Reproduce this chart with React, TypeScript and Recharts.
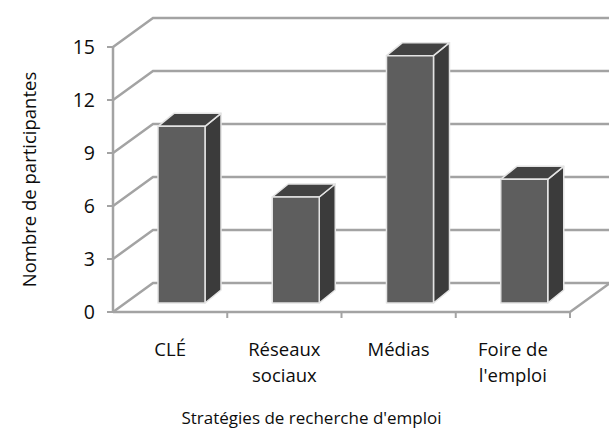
import { Bar, BarChart, CartesianGrid, Label, XAxis, YAxis } from 'recharts'

const CATEGORIES = ['CLÉ', 'Réseaux\nsociaux', 'Médias', "Foire de\nl'emploi"]
const PARTICIPANTS = [10, 6, 14, 7]
const Y_TICKS = [0, 3, 6, 9, 12, 15]
const X_TITLE = "Stratégies de recherche d'emploi"
const Y_TITLE = 'Nombre de participantes'

const rows = CATEGORIES.map((name, i) => ({ name, value: PARTICIPANTS[i] }))

const FONT = '"Open Sans", "DejaVu Sans", sans-serif'
const GRID = '#a3a3a3'
const TEXT = '#0d0d0d'
// oblique depth of the back wall, and where the bars sit inside that depth
const DEPTH_X = 40
const DEPTH_Y = -29
const BAR_SHIFT_X = 11
const BAR_SHIFT_Y = -9
const BAR_DEPTH_X = 16
const BAR_DEPTH_Y = -13

function WallLine(props: any) {
  const { x1, x2, y1, y, height } = props
  const by = y1 + DEPTH_Y
  const isFloor = Math.abs(y1 - (y + height)) < 1
  const step = (x2 - x1) / CATEGORIES.length
  return (
    <g key={props.key}>
      <polyline
        points={`${x1},${y1} ${x1 + DEPTH_X},${by} ${x2 + DEPTH_X},${by}`}
        fill="none"
        stroke={GRID}
        strokeWidth={2.5}
      />
      {isFloor && (
        <>
          <polyline
            points={`${x1},${y1} ${x2},${y1} ${x2 + DEPTH_X},${by}`}
            fill="none"
            stroke={GRID}
            strokeWidth={2.5}
          />
          {CATEGORIES.map((_, i) => (
            <line
              key={i}
              x1={x1 + step * (i + 1)}
              x2={x1 + step * (i + 1)}
              y1={y1}
              y2={y1 + 6}
              stroke={GRID}
              strokeWidth={2}
            />
          ))}
        </>
      )}
    </g>
  )
}

function Box3D(props: any) {
  const { x, y, width, height } = props
  if (!height) return null
  const fx = x + BAR_SHIFT_X
  const fy = y + BAR_SHIFT_Y
  const r = fx + width
  const b = fy + height
  const dx = BAR_DEPTH_X
  const dy = BAR_DEPTH_Y
  const edge = { stroke: '#e4e4e4', strokeWidth: 1.5, strokeLinejoin: 'round' as const }
  return (
    <g>
      <polygon points={`${r},${fy} ${r + dx},${fy + dy} ${r + dx},${b + dy} ${r},${b}`} fill="#3b3b3b" {...edge} />
      <polygon points={`${fx},${fy} ${fx + dx},${fy + dy} ${r + dx},${fy + dy} ${r},${fy}`} fill="#424242" {...edge} />
      <rect x={fx} y={fy} width={width} height={height} fill="#5e5e5e" {...edge} />
    </g>
  )
}

function CategoryTick({ x, y, payload }: any) {
  const lines = String(payload.value).split('\n')
  return (
    <text x={x} y={y} textAnchor="middle" fontFamily={FONT} fontSize={18.5} fill={TEXT}>
      {lines.map((line, i) => (
        <tspan key={i} x={x} dy={i === 0 ? 36 : 26}>
          {line}
        </tspan>
      ))}
    </text>
  )
}

function YTitle({ viewBox }: any) {
  const cx = viewBox.x + 28
  const cy = viewBox.y + viewBox.height / 2
  return (
    <text
      x={cx}
      y={cy}
      transform={`rotate(-90, ${cx}, ${cy})`}
      textAnchor="middle"
      dominantBaseline="central"
      fontFamily={FONT}
      fontSize={18.5}
      fill={TEXT}
    >
      {Y_TITLE}
    </text>
  )
}

function XTitle({ viewBox }: any) {
  const cx = viewBox.x + viewBox.width / 2 - 30
  const cy = viewBox.y + viewBox.height - 6
  return (
    <text x={cx} y={cy} textAnchor="middle" fontFamily={FONT} fontSize={17} fill={TEXT}>
      {X_TITLE}
    </text>
  )
}

export default function App() {
  return (
    <div style={{ position: 'absolute', left: 0, top: 0, width: 609, height: 430, background: '#fff' }}>
      <BarChart width={609} height={430} data={rows} margin={{ top: 47, right: 39, left: 0, bottom: 0 }}>
        <CartesianGrid vertical={false} horizontal={(p: any) => <WallLine {...p} />} />
        <XAxis
          dataKey="name"
          interval={0}
          height={118}
          tickLine={false}
          axisLine={false}
          tick={<CategoryTick />}
        >
          <Label content={<XTitle />} />
        </XAxis>
        <YAxis
          width={113}
          domain={[0, 15]}
          ticks={Y_TICKS}
          interval={0}
          tickSize={6}
          tickMargin={12}
          axisLine={{ stroke: GRID, strokeWidth: 2.5 }}
          tickLine={{ stroke: GRID, strokeWidth: 2 }}
          tick={{ fontFamily: FONT, fontSize: 19.5, fill: TEXT }}
        >
          <Label content={<YTitle />} />
        </YAxis>
        <Bar dataKey="value" barSize={47} shape={<Box3D />} isAnimationActive={false} />
      </BarChart>
    </div>
  )
}
